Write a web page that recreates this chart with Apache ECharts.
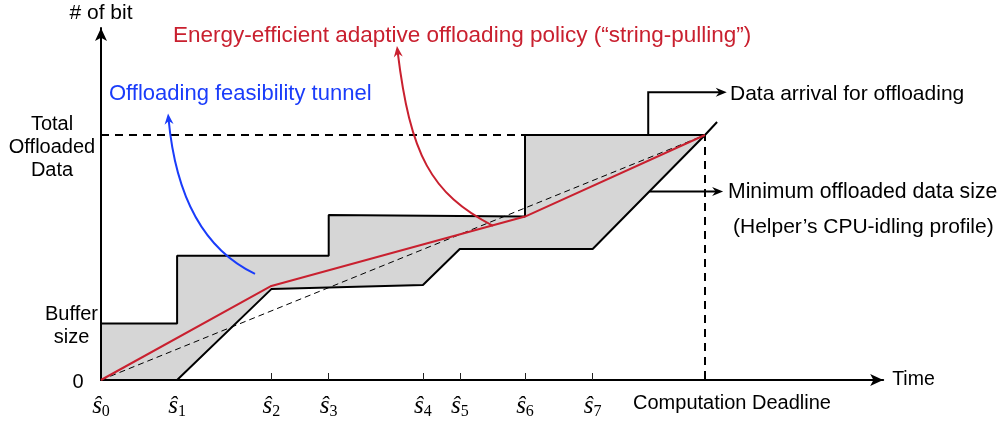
<!DOCTYPE html>
<html><head><meta charset="utf-8">
<script src="https://cdn.jsdelivr.net/npm/echarts@6/dist/echarts.min.js"></script>
<style>html,body{margin:0;padding:0;background:#fff}#c{width:1003px;height:424px}</style>
</head><body><div id="c"></div>
<script>
// ---- data (time units: deadline = 100; data units: total offloaded = 100) ----
const epochs = [0, 12.6, 28.2, 37.7, 53.3, 59.4, 70.2, 81.4];
const epochLabels = ['0', '1', '2', '3', '4', '5', '6', '7'];
const deadline = 100;
const deadlineLabel = 'Computation Deadline';
const totalData = 100;
const bufferSize = 23.1;
// upper bound of the tunnel: data arrival for offloading (+ buffer)
const upperX = [0, 0, 12.6, 12.6, 37.7, 37.7, 70.2, 70.2, 100];
const upperY = [0, 23.1, 23.1, 50.7, 50.7, 67.3, 66.7, 100, 100];
// lower bound: minimum offloaded data size (helper's CPU-idling profile)
const lowerX = [0, 12.6, 28.2, 53.3, 59.4, 81.4, 100, 102];
const lowerY = [0, 0, 37.1, 38.8, 53.5, 53.5, 100, 105.3];
// energy-efficient adaptive offloading policy ("string-pulling")
const policyX = [0, 28.2, 70.2, 100];
const policyY = [0, 38.4, 66.7, 100];
// annotation arrows
const arrivalArrow = [[90.6, 100], [90.6, 117.4], [103.6, 117.4]];
const minSizeArrow = [[90.8, 76.9], [103, 76.9]];
const tunnelArrow = [[25.5, 43.3], [16.6, 53.8], [12.3, 76.4], [11.1, 108.8]];
const policyArrow = [[64.9, 62.9], [54.6, 76.1], [51.2, 91.8], [49.0, 136.3]];

const yAxisName = '# of bit';
const xAxisName = 'Time';
const textPolicy = 'Energy-efficient adaptive offloading policy (\u201cstring-pulling\u201d)';
const textTunnel = 'Offloading feasibility tunnel';
const textArrival = 'Data arrival for offloading';
const textMin1 = 'Minimum offloaded data size';
const textMin2 = '(Helper\u2019s CPU-idling profile)';

const RED = '#c9202f', BLUE = '#1a3cfa', GRAY = '#d6d6d6';
const SANS = 'Liberation Sans';
const zip = (xs, ys) => xs.map((x, i) => [x, ys[i]]);

const arrows = [
  { kind: 'poly', pts: arrivalArrow, color: '#000' },
  { kind: 'poly', pts: minSizeArrow, color: '#000' },
  { kind: 'bez', pts: tunnelArrow, color: BLUE },
  { kind: 'bez', pts: policyArrow, color: RED }
];

function head(tip, d, color) {
  const L = 11, W = 4.5;
  const n = [-d[1], d[0]];
  const b = [tip[0] - L * d[0], tip[1] - L * d[1]];
  const notch = [tip[0] - L * 0.68 * d[0], tip[1] - L * 0.68 * d[1]];
  return { type: 'polygon', shape: { points: [tip, [b[0] + W * n[0], b[1] + W * n[1]], notch, [b[0] - W * n[0], b[1] - W * n[1]]] }, style: { fill: color } };
}
function unit(a, b) { const dx = b[0] - a[0], dy = b[1] - a[1]; const l = Math.hypot(dx, dy); return [dx / l, dy / l]; }

const chart = echarts.init(document.getElementById('c'), null, { renderer: 'canvas' });
const xUnit = 6.04, yUnit = 2.45, xMax = 129.5, yMax = 143.7;
const titleItem = (text, left, top, size, color) => ({ text, left, top, padding: 0, textStyle: { fontFamily: SANS, fontSize: size, fontWeight: 'normal', color } });

chart.setOption({
  animation: false,
  backgroundColor: '#fff',
  title: [
    titleItem(textPolicy, 173, 24, 22.5, RED),
    titleItem(textTunnel, 109, 83, 22, BLUE),
    titleItem(textArrival, 730, 84, 21, '#000'),
    titleItem(textMin1, 728, 182, 21.2, '#000'),
    titleItem(textMin2, 733, 217, 21, '#000')
  ],
  grid: { left: 101, top: 380 - yMax * yUnit, width: xMax * xUnit, height: yMax * yUnit, containLabel: false, outerBoundsMode: 'none' },
  xAxis: {
    type: 'value', min: 0, max: xMax,
    name: xAxisName, nameLocation: 'end', nameGap: 9,
    nameTextStyle: { fontFamily: SANS, fontSize: 19.5, color: '#000', verticalAlign: 'middle', padding: [5, 0, 0, 0] },
    axisLine: { show: true, symbol: ['none', 'arrow'], symbolSize: [9, 13], lineStyle: { color: '#000', width: 2 } },
    axisTick: { show: true, inside: true, length: 7, customValues: epochs.slice(2), lineStyle: { color: '#222', width: 1 } },
    splitLine: { show: false },
    axisLabel: {
      show: true, margin: 13, customValues: epochs.concat([deadline]), color: '#000',
      formatter: v => {
        if (Math.abs(v - deadline) < 1e-6) return '{d|' + deadlineLabel + '}';
        const i = epochs.findIndex(e => Math.abs(e - v) < 1e-6);
        return '{s|\u015d}{n|' + epochLabels[i] + '}';
      },
      rich: {
        s: { fontFamily: 'Liberation Serif', fontStyle: 'italic', fontSize: 25, color: '#000' },
        n: { fontFamily: 'Liberation Serif', fontSize: 16, color: '#000', padding: [11, 0, 0, 0] },
        d: { fontFamily: SANS, fontSize: 20, color: '#000', padding: [0, 0, 0, 54] }
      }
    }
  },
  yAxis: {
    type: 'value', min: 0, max: yMax,
    name: yAxisName, nameLocation: 'end', nameGap: 4,
    nameTextStyle: { fontFamily: SANS, fontSize: 21, color: '#000' },
    axisLine: { show: true, symbol: ['none', 'arrow'], symbolSize: [9, 13], lineStyle: { color: '#000', width: 2 } },
    axisTick: { show: false },
    splitLine: { show: false },
    axisLabel: {
      show: true, margin: 3, align: 'right', customValues: [0, bufferSize, totalData], color: '#000',
      formatter: v => v === 0 ? '{e0| }\n{z|0}' : (v === bufferSize ? '{e1| }\n{b|Buffer}\n{b|size}' : '{e2| }\n{t|Total}\n{t|Offloaded}\n{t|Data}'),
      rich: {
        z: { fontFamily: SANS, fontSize: 20, width: 40, align: 'center', lineHeight: 23, color: '#000' },
        b: { fontFamily: SANS, fontSize: 20, width: 53, align: 'center', lineHeight: 23, color: '#000' },
        t: { fontFamily: SANS, fontSize: 20, width: 92, align: 'center', lineHeight: 23, color: '#000' },
        e0: { fontSize: 4, lineHeight: 4, width: 40 },
        e1: { fontSize: 4, lineHeight: 6, width: 53 },
        e2: { fontSize: 4, lineHeight: 24, width: 92 }
      }
    }
  },
  series: [
    {
      type: 'custom', coordinateSystem: 'cartesian2d', silent: true, z: 1, clip: false,
      data: [[0, 0]],
      renderItem: (p, api) => {
        const pts = [];
        for (let i = 0; i < upperX.length; i++) pts.push(api.coord([upperX[i], upperY[i]]));
        for (let i = lowerX.length - 2; i >= 0; i--) pts.push(api.coord([lowerX[i], lowerY[i]]));
        return { type: 'polygon', shape: { points: pts }, style: { fill: GRAY } };
      }
    },
    { type: 'line', z: 2, data: [[0, totalData], [deadline, totalData], [deadline, 0]], symbol: 'none', silent: true,
      lineStyle: { color: '#000', width: 2, type: [8, 6] } },
    { type: 'line', z: 2, data: [[0, 0], [deadline, totalData]], symbol: 'none', silent: true,
      lineStyle: { color: '#000', width: 1, type: [6, 4] } },
    { type: 'line', z: 3, data: zip(upperX, upperY), symbol: 'none', silent: true, lineStyle: { color: '#000', width: 2 } },
    { type: 'line', z: 3, data: zip(lowerX, lowerY), symbol: 'none', silent: true, lineStyle: { color: '#000', width: 2 } },
    { type: 'line', z: 4, data: zip(policyX, policyY), symbol: 'none', silent: true, lineStyle: { color: RED, width: 2 } },
    {
      type: 'custom', coordinateSystem: 'cartesian2d', silent: true, z: 5, clip: false,
      data: arrows.map(a => a.pts[0]),
      renderItem: (p, api) => {
        const a = arrows[p.dataIndex];
        const px = a.pts.map(q => api.coord(q));
        const tip = px[px.length - 1];
        const d = unit(px[px.length - 2], tip);
        const end = [tip[0] - 5 * d[0], tip[1] - 5 * d[1]];
        let line;
        if (a.kind === 'poly') {
          line = { type: 'polyline', shape: { points: px.slice(0, -1).concat([end]) }, style: { stroke: a.color, lineWidth: 2, fill: null } };
        } else {
          line = { type: 'bezierCurve', shape: { x1: px[0][0], y1: px[0][1], cpx1: px[1][0], cpy1: px[1][1], cpx2: px[2][0], cpy2: px[2][1], x2: end[0], y2: end[1] }, style: { stroke: a.color, lineWidth: 2, fill: null } };
        }
        return { type: 'group', children: [line, head(tip, d, a.color)] };
      }
    }
  ]
});
</script></body></html>
